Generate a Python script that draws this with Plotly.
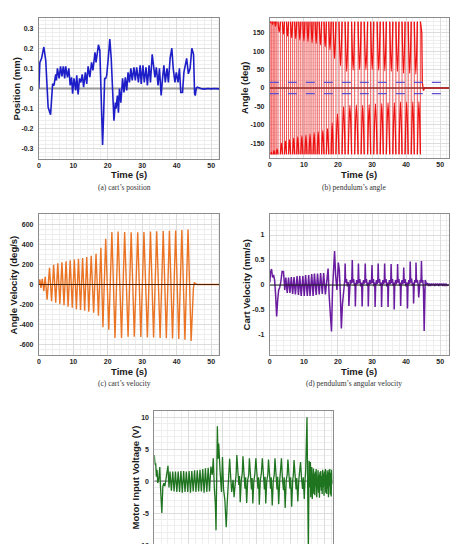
import plotly.graph_objects as go

W, H = 459, 544

# ---------------- data ----------------
X_TICKS = [0, 10, 20, 30, 40, 50]
X_LABELS = ["0", "10", "20", "30", "40", "50"]

# (a) cart position (mm)
POS_T = [0.0, 0.3, 0.8, 1.45, 2.0, 2.7, 3.4, 4.0, 4.4, 4.9, 5.1, 5.4, 5.9, 6.3, 6.7, 7.1, 7.5, 7.8, 8.3, 8.7,
         9.1, 9.5, 9.8, 10.2, 10.7, 11.0, 11.4, 11.8, 12.2, 12.6, 13.0, 13.5, 13.9, 14.3, 14.8, 15.3, 15.7,
         16.3, 16.6, 17.3, 17.7, 18.0, 18.3, 18.5, 18.8, 19.1, 19.4, 19.7, 20.2, 20.6, 21.0, 21.4, 21.8,
         22.2, 22.4, 22.8, 23.1, 23.4, 23.8, 24.3, 24.7, 25.1, 25.5, 25.9, 26.3, 26.7, 27.1, 27.6, 28.0,
         28.4, 28.9, 29.4, 29.7, 30.2, 30.6, 31.1, 31.5, 32.0, 32.4, 32.9, 33.2, 33.7, 34.1, 34.6, 35.0,
         35.5, 35.9, 36.3, 36.7, 37.2, 37.6, 38.1, 38.6, 39.0, 39.5, 39.9, 40.4, 40.8, 41.2, 41.7, 42.1,
         42.5, 42.9, 43.4, 43.9, 44.4, 44.9, 45.2, 45.4, 45.7, 46.0, 47.0, 48.0, 49.0, 50.0, 51.0, 52.3]
POS_V = [0.0, 0.13, 0.15, 0.206, 0.14, -0.093, -0.13, 0.023, 0.015, 0.07, 0.04, 0.1, 0.05, 0.11, 0.06, 0.11,
         0.05, 0.11, 0.055, 0.1, 0.015, 0.055, -0.026, 0.05, -0.01, 0.065, -0.03, 0.05, 0.03, 0.07, 0.007,
         0.08, 0.023, 0.11, 0.056, 0.13, 0.09, 0.18, 0.13, 0.217, 0.19, 0.015, -0.1, -0.28, -0.13, 0.05,
         0.05, 0.065, 0.16, 0.245, 0.15, -0.05, -0.16, -0.07, -0.1, -0.035, -0.12, 0.0, -0.07, 0.05, -0.02,
         0.055, -0.01, 0.08, 0.03, 0.1, 0.04, 0.105, 0.04, 0.105, 0.03, 0.115, 0.023, 0.115, 0.03, 0.105,
         0.015, 0.115, 0.03, 0.17, 0.115, 0.055, 0.105, 0.015, 0.1, -0.035, 0.05, 0.115, 0.03, 0.1, 0.03,
         0.15, 0.2, 0.1, 0.03, 0.08, 0.03, 0.1, -0.02, -0.02, 0.08, 0.115, 0.15, 0.073, 0.1, 0.2, 0.17,
         -0.027, -0.035, 0.002, 0.007, 0.0, -0.003, 0.0, -0.002, 0.0, -0.002]
POS_TICKS = [-0.3, -0.2, -0.1, 0, 0.1, 0.2, 0.3]
POS_LABELS = ["-0.3", "-0.2", "-0.1", "0", "0.1", "0.2", "0.3"]

# (b) pendulum angle (deg): wrap instants and swing extremes
ANGLE_WRAP = 180
WRAP_T = [0.3, 0.6, 1.0, 1.45, 1.85, 2.4, 3.1, 3.7, 4.3, 4.9, 5.5, 6.1, 6.7, 7.3, 7.9, 8.5, 9.1, 9.7, 10.3,
          10.9, 11.5, 12.1, 12.7, 13.3, 13.9, 14.5, 15.2, 15.9, 16.6, 17.3, 18.0, 18.6, 19.4, 20.3, 21.2,
          22.1, 23.0, 24.0, 24.9, 25.9, 26.8, 27.7, 28.7, 29.6, 30.5, 31.5, 32.4, 33.3, 34.2, 35.2, 36.1,
          37.0, 37.9, 38.8, 39.7, 40.6, 41.5, 42.4, 43.3, 44.2]
EXT_T = [0.0, 0.45, 0.8, 1.22, 1.65, 2.12, 2.75, 3.4, 4.0, 4.6, 5.2, 5.8, 6.4, 7.0, 7.6, 8.2, 8.8, 9.4, 10.0,
         10.6, 11.2, 11.8, 12.4, 13.0, 13.6, 14.2, 14.85, 15.55, 16.25, 16.95, 17.65, 18.3, 19.0, 19.85,
         20.75, 21.65, 22.55, 23.5, 24.45, 25.4, 26.35, 27.25, 28.2, 29.15, 30.05, 31.0, 31.95, 32.85,
         33.75, 34.7, 35.65, 36.55, 37.45, 38.35, 39.25, 40.15, 41.05, 41.95, 42.85, 43.75]
EXT_V = [176, -174, 172, -170, 168, -165, 152, -150, 146, -144, 141, -140, 137, -136, 134, -133, 131, -130,
         128, -128, 126, -125, 123, -122, 121, -119, 117, -115, 112, -110, 104, -95, 80, -70, 60, -50, 45,
         -47, 48, -46, 50, -47, 50, -45, 50, -43, 48, -42, 47, -40, 45, -40, 45, -38, 40, -38, 40, -38, 38,
         -37]
ANG_END_T = [44.2, 44.6, 44.75, 45.1, 45.4, 52.6]
ANG_END_V = [180, 150, 15, -7, 0, 0]
ANG_BAND = 15
ANG_TICKS = [-150, -100, -50, 0, 50, 100, 150]
ANG_LABELS = ["-150", "-100", "-50", "0", "50", "100", "150"]

# (c) angle velocity (deg/s)
VEL_T = [0.0, 0.3, 0.6, 1.0, 1.45, 1.85, 2.4, 3.1, 3.7, 4.3, 4.9, 5.5, 6.1, 6.7, 7.3, 7.9, 8.5, 9.1, 9.7,
         10.3, 10.9, 11.5, 12.1, 12.7, 13.3, 13.9, 14.5, 15.2, 15.9, 16.6, 17.3, 18.0, 18.6, 19.4, 20.3,
         21.2, 22.1, 23.0, 24.0, 24.9, 25.9, 26.8, 27.7, 28.7, 29.6, 30.5, 31.5, 32.4, 33.3, 34.2, 35.2,
         36.1, 37.0, 37.9, 38.8, 39.7, 40.6, 41.5, 42.4, 43.3, 44.2, 44.7, 44.85, 45.1, 45.5, 46.0, 52.3]
VEL_V = [0, 50, -35, 57, -65, 77, -150, 165, -165, 195, -180, 210, -195, 220, -205, 230, -220, 240, -230,
         248, -245, 255, -252, 262, -260, 272, -270, 285, -280, 305, -310, 365, -425, 455, -450, 520, -530,
         525, -530, 520, -518, 518, -518, 518, -522, 520, -525, 525, -527, 528, -530, 530, -533, 533, -537,
         537, -542, 540, -548, 545, -560, -75, -40, 20, 5, 0, 0]
VEL_TICKS = [-600, -400, -200, 0, 200, 400, 600]
VEL_LABELS = ["-600", "-400", "-200", "0", "200", "400", "600"]

# (d) cart velocity (mm/s)
CV_T = [0.0, 0.2, 0.5, 0.8, 1.1, 1.4, 1.7, 2.0, 2.3, 2.6, 2.9, 3.2, 3.6, 4.0, 4.4, 4.7, 5.1, 5.5, 5.9, 6.3,
        6.7, 7.1, 7.5, 8.0, 8.4, 8.8, 9.2, 9.7, 10.1, 10.5, 11.0, 11.4, 11.8, 12.3, 12.7, 13.1, 13.6, 14.0,
        14.5, 14.9, 15.4, 15.8, 16.3, 16.8, 17.1, 17.4, 17.8, 18.1, 18.4, 18.7, 19.0, 19.3, 19.7, 20.1,
        20.4, 20.7, 21.0, 21.3, 21.6, 21.9,
        22.0, 22.1, 22.25, 22.5, 22.75, 22.95, 23.1, 23.2, 23.35, 23.6, 23.85, 24.05, 24.2, 24.35, 24.6,
        24.85, 25.0, 25.1, 25.25, 25.5, 25.75, 25.9, 26.0, 26.15, 26.4, 26.7, 26.95, 27.1, 27.25, 27.5,
        27.7, 27.9, 28.0, 28.15, 28.35, 28.6, 28.8, 28.9, 29.05, 29.3, 29.6, 29.85, 30.0, 30.15, 30.4,
        30.6, 30.8, 30.9, 31.05, 31.3, 31.5, 31.7, 31.8, 31.95, 32.2, 32.45, 32.7, 32.8, 32.95, 33.2,
        33.4, 33.6, 33.7, 33.85, 34.1, 34.35, 34.6, 34.7, 34.85, 35.1, 35.3, 35.5, 35.6, 35.75, 36.0,
        36.2, 36.4, 36.5, 36.65, 36.9, 37.1, 37.4, 37.5, 37.65, 37.9, 38.1, 38.3, 38.4, 38.55, 38.8,
        39.0, 39.2, 39.3, 39.45, 39.7, 39.95, 40.25, 40.4, 40.55, 40.8, 41.0, 41.1, 41.2, 41.35, 41.6,
        41.85, 42.1, 42.2, 42.35, 42.55, 42.75, 42.85, 42.9, 43.05, 43.3, 43.55, 43.7, 43.85, 44.1, 44.3,
        44.4, 44.5, 44.65, 44.9, 45.1, 45.3, 45.45, 45.6, 45.8, 46.0, 46.3, 46.6, 46.9, 47.2, 47.5, 47.8,
        48.1, 48.4, 48.7, 49.0, 49.3, 49.6, 49.9, 50.2, 50.5, 50.8, 51.1, 51.4, 51.7, 52.0, 52.5]
CV_V = [0.05, 0.25, 0.32, 0.15, 0.2, 0.1, -0.2, -0.63, -0.3, -0.1, -0.05, 0.05, 0.27, 0.27, -0.1, 0.15,
        -0.16, 0.15, -0.16, 0.16, -0.18, 0.16, -0.19, 0.18, -0.2, 0.18, -0.22, 0.18, -0.22, 0.2, -0.22, 0.2,
        -0.22, 0.22, -0.22, 0.23, -0.2, 0.23, -0.19, 0.24, -0.18, 0.24, -0.19, 0.25, 0.33, -0.2, -0.78,
        -0.93, -0.1, 0.4, 0.68, 0.2, -0.1, 0.45, 0.3, -0.2, -0.87, -0.4, -0.2, 0.05,
        0.1, 0.43, 0.05, 0.12, -0.03, 0.06, 0.0, -0.42, -0.02, 0.1, 0.03, 0.1, 0.5, 0.05, 0.12,
        -0.02, 0.04, -0.43, -0.03, 0.1, 0.02, 0.1, 0.43, 0.04, 0.12, -0.03, 0.05, -0.43, -0.02, 0.1,
        0.03, 0.1, 0.43, 0.05, 0.12, -0.02, 0.05, -0.43, -0.02, 0.1, 0.02, 0.1, 0.4, 0.04, 0.12,
        -0.03, 0.05, -0.44, -0.02, 0.1, 0.02, 0.1, 0.43, 0.05, 0.12, -0.02, 0.05, -0.44, -0.02, 0.1,
        0.02, 0.1, 0.43, 0.05, 0.12, -0.03, 0.05, -0.44, -0.02, 0.1, 0.02, 0.1, 0.42, 0.04, 0.12,
        -0.02, 0.05, -0.49, -0.03, 0.1, 0.02, 0.1, 0.42, 0.05, 0.12, -0.02, 0.05, -0.42, -0.02, 0.1,
        0.02, 0.1, 0.35, 0.04, 0.12, -0.03, 0.05, -0.47, -0.02, 0.1, 0.02, 0.12, 0.47, 0.05, 0.13,
        -0.02, 0.05, -0.37, -0.02, 0.1, 0.05, 0.12, 0.45, 0.05, 0.1, 0.0, -0.25, 0.0, 0.1, 0.05,
        0.15, 0.48, 0.05, 0.1, -0.1, -0.92, 0.05, 0.1, 0.06, 0.0, 0.04, -0.02, 0.03, -0.02, 0.03, -0.01,
        0.03, -0.02, 0.03, -0.01, 0.03, -0.02, 0.03, -0.01, 0.03, -0.02, 0.02, -0.01, 0.02, -0.01, 0.01]
CV_TICKS = [-1, -0.5, 0, 0.5, 1]
CV_LABELS = ["-1", "-0.5", "0", "0.5", "1"]

# (e) motor input voltage (V)
MV_T = [0.0, 0.2, 0.4, 0.6, 0.8, 1.0, 1.3, 1.6, 1.8, 2.2, 2.5, 2.8, 3.1, 3.4, 3.7, 4.0, 4.3, 4.6, 5.0, 5.4,
        5.8, 6.2, 6.6, 7.0, 7.4, 7.8, 8.2, 8.6, 9.0, 9.4, 9.8, 10.2, 10.6, 11.0, 11.4, 11.8, 12.2, 12.6,
        13.0, 13.4, 13.8, 14.2, 14.6, 15.0, 15.4, 15.8, 16.2, 16.6, 17.0, 17.3, 17.6, 17.9, 18.1, 18.3,
        18.5, 18.7, 18.9, 19.3, 19.7, 20.0, 20.3, 20.7, 21.1, 21.4, 21.6, 21.9, 22.1, 22.4, 22.7, 23.1,
        23.4, 23.8, 24.0, 24.2, 24.5, 24.8, 25.0, 25.2, 25.5, 25.8, 26.0, 26.3, 26.6, 26.8, 27.1, 27.4,
        27.7, 27.9, 28.2, 28.5, 28.7, 28.9, 29.2, 29.5, 29.8, 30.1, 30.4, 30.6, 30.8, 31.1, 31.4, 31.7,
        32.0, 32.3, 32.5, 32.7, 33.0, 33.3, 33.5, 33.8, 34.1, 34.3, 34.6, 34.9, 35.2, 35.4, 35.7, 36.0,
        36.2, 36.5, 36.8, 37.0, 37.3, 37.6, 37.9, 38.1, 38.4, 38.7, 39.0, 39.2, 39.5, 39.8, 40.0, 40.3,
        40.6, 40.8, 41.0, 41.3, 41.6, 41.8, 42.1, 42.4, 42.6, 42.9, 43.2, 43.5, 43.7, 44.0, 44.2, 44.4,
        44.55, 44.8, 45.2, 45.4, 45.5, 45.6, 45.7, 45.8, 45.9, 46.0, 46.1, 46.2, 46.35, 46.5, 46.6, 46.7,
        46.85, 47.0, 47.1, 47.25, 47.4, 47.5, 47.65, 47.8, 47.9, 48.05, 48.2, 48.3, 48.45, 48.6, 48.7,
        48.85, 49.0, 49.1, 49.25, 49.4, 49.5, 49.65, 49.8, 49.9, 50.05, 50.2, 50.3, 50.45, 50.6, 50.7,
        50.85, 51.0, 51.1, 51.25, 51.4, 51.5, 51.65, 51.8, 51.9, 52.05, 52.2, 52.3]
MV_V = [4.1, 2.6, 2.8, 0.7, 1.8, -0.3, 0.3, 2.2, -0.8, -5.0, -0.8, -0.3, -0.8, 0.2, 1.5, 2.4, -1.0, 1.5,
        -1.5, 1.5, -1.6, 1.5, -1.7, 1.5, -1.7, 1.6, -1.8, 1.6, -1.7, 1.5, -1.7, 1.6, -1.8, 1.6, -1.6, 1.7,
        -1.7, 1.7, -1.6, 1.8, -1.6, 1.9, -1.8, 2.0, -1.7, 2.1, -1.6, 2.3, 1.0, 3.6, -1.0, -3.5, -7.7, 0.0,
        8.6, 3.5, 5.9, 1.5, -1.7, 3.8, -1.2, -3.0, -7.2, -3.3, -1.4, 0.7, 3.5, 0.7, -1.7, 0.2,
        -2.5, 0.0, 1.0, 4.1, 0.7, -0.6, 0.8, -3.3, 0.0, 1.2, 3.9, 0.3, -1.2, 0.6, -3.4, 0.2,
        1.0, 3.6, 0.3, -1.3, 0.5, -3.5, 0.0, 1.1, 3.6, 0.4, -1.2, 0.6, -3.7, 0.1, 1.2, 3.6,
        0.3, -1.3, 0.7, -3.5, 0.1, 1.0, 3.4, 0.2, -1.2, 0.6, -3.8, 0.0, 1.1, 3.6, 0.3, -1.3,
        0.7, -3.6, 0.1, 1.2, 3.6, 0.3, -1.4, 0.6, -4.2, 0.1, 1.1, 3.4, 0.2, -1.2, 0.6, -4.0,
        0.0, 1.0, 3.3, 0.3, -1.3, 0.5, -3.2, 0.2, 1.2, 3.0, 0.4, -1.2, 0.6, -2.8, 0.0, 1.5,
        4.6, 10.0, -11.5, 3.2, -2.0, 2.5, -1.0, 3.0, -2.5, 1.8, -1.5, 2.2, -2.8, 1.0, -0.5, 2.0,
        -2.0, 1.2, -2.2, 1.5, -0.8, 1.9, -2.5, 0.8, -1.2, 1.7, -1.8, 1.0, -2.6, 1.4,
        -0.9, 1.6, -1.5, 0.8, -2.0, 1.8, -1.0, 1.2, -2.3, 1.5, -0.7, 1.9, -1.8, 1.0, -2.0,
        1.7, -1.2, 1.4, -2.5, 1.8, -0.8, 1.9, -2.1, 1.3, -2.4, 1.8, -0.5]
MV_TICKS = [-5, 0, 5, 10]
MV_LABELS = ["-5", "0", "5", "10"]

# ---------------- styling ----------------
SANS = "Liberation Sans, Arial, sans-serif"
SERIF = "Liberation Serif, Times New Roman, serif"
GRID = "#dcdcdc"
GRID2 = "#eeeeee"
BOX = "#8c8c8c"
TICK_SIZE = 7


def P(x, y):
    return x / W, 1 - y / H


def xax(x0, x1, rng, anchor, show=True):
    return dict(domain=[x0 / W, x1 / W], range=rng, anchor=anchor,
                tickmode="array", tickvals=X_TICKS, ticktext=X_LABELS, showticklabels=show,
                showgrid=True, gridcolor=GRID, gridwidth=0.7,
                minor=dict(tickmode="linear", tick0=0, dtick=2, showgrid=True, gridcolor=GRID2, gridwidth=0.6),
                showline=True, mirror=True, linecolor=BOX, linewidth=1, zeroline=False, ticks="",
                ticklabelstandoff=0,
                tickfont=dict(family=SANS, size=TICK_SIZE, color="#262626", weight="bold"), fixedrange=True)


def yax(y0, y1, rng, tv, tt, mdt, anchor):
    return dict(domain=[max(0, 1 - y1 / H), 1 - y0 / H], range=rng, anchor=anchor,
                tickmode="array", tickvals=tv, ticktext=tt,
                showgrid=True, gridcolor=GRID, gridwidth=0.7,
                minor=dict(tickmode="linear", tick0=0, dtick=mdt, showgrid=True, gridcolor=GRID2, gridwidth=0.6),
                showline=True, mirror=True, linecolor=BOX, linewidth=1, zeroline=False, ticks="",
                ticklabelstandoff=3,
                tickfont=dict(family=SANS, size=TICK_SIZE, color="#262626", weight="bold"), fixedrange=True)


fig = go.Figure()

# reference zero lines drawn beneath data (a) and (e)
fig.add_trace(go.Scatter(x=[X_TICKS[0], POS_T[-1]], y=[0, 0], mode="lines",
                         line=dict(color="#9a9a9a", width=2), xaxis="x", yaxis="y",
                         showlegend=False, hoverinfo="skip"))
fig.add_trace(go.Scatter(x=[X_TICKS[0], MV_T[-1]], y=[0, 0], mode="lines",
                         line=dict(color="#9a9a9a", width=1.6), xaxis="x5", yaxis="y5",
                         showlegend=False, hoverinfo="skip"))

# (a)
fig.add_trace(go.Scatter(x=POS_T, y=POS_V, mode="lines", line=dict(color="#1e1ec8", width=1.6),
                         xaxis="x", yaxis="y", showlegend=False))

# (b) wrap segments and swing excursions
wx, wy = [], []
for w in WRAP_T:
    wx += [w, w, None]
    wy += [ANGLE_WRAP, -ANGLE_WRAP, None]
ex, ey = [], []
for k, (te, ve) in enumerate(zip(EXT_T, EXT_V)):
    s = ANGLE_WRAP if ve > 0 else -ANGLE_WRAP
    if k == 0:
        ex += [te, WRAP_T[0], None]
        ey += [ve, s, None]
    else:
        ex += [WRAP_T[k - 1], te, WRAP_T[k], None]
        ey += [s, ve, s, None]
fig.add_trace(go.Scatter(x=wx, y=wy, mode="lines", line=dict(color="#ee1111", width=0.7),
                         xaxis="x2", yaxis="y2", showlegend=False))
fig.add_trace(go.Scatter(x=ex, y=ey, mode="lines", line=dict(color="#ee1111", width=1.3, shape="spline"),
                         xaxis="x2", yaxis="y2", showlegend=False))
fig.add_trace(go.Scatter(x=ANG_END_T, y=ANG_END_V, mode="lines", line=dict(color="#ee1111", width=1.3),
                         xaxis="x2", yaxis="y2", showlegend=False))

# (c)
fig.add_trace(go.Scatter(x=VEL_T, y=VEL_V, mode="lines", line=dict(color="#ea7424", width=1.4),
                         xaxis="x3", yaxis="y3", showlegend=False))
# (d)
fig.add_trace(go.Scatter(x=CV_T, y=CV_V, mode="lines", line=dict(color="#6a1ca0", width=1.5),
                         xaxis="x4", yaxis="y4", showlegend=False))
# (e)
fig.add_trace(go.Scatter(x=MV_T, y=MV_V, mode="lines", line=dict(color="#1f7420", width=1.3),
                         xaxis="x5", yaxis="y5", showlegend=False))


def hline(xref, yref, y, color, width, dash="solid"):
    fig.add_shape(type="line", xref=xref + " domain", x0=0, x1=1, yref=yref, y0=y, y1=y,
                  line=dict(color=color, width=width, dash=dash), layer="above")


hline("x2", "y2", 0, "#9a2a2a", 1.6)
hline("x2", "y2", ANG_BAND, "#5b4fcf", 1.3, "dash")
hline("x2", "y2", -ANG_BAND, "#5b4fcf", 1.3, "dash")
hline("x3", "y3", 0, "#4a2208", 1.2)
hline("x4", "y4", 0, "#1a1a1a", 1.0)

fig.update_layout(
    width=W, height=H, margin=dict(l=0, r=0, t=0, b=0),
    paper_bgcolor="white", plot_bgcolor="white",
    xaxis=xax(37, 218, [0, 52.3], "y"),
    yaxis=yax(18, 159, [-0.35, 0.35], POS_TICKS, POS_LABELS, 0.02, "x"),
    xaxis2=xax(269, 449, [0, 52.6], "y2"),
    yaxis2=yax(18, 158, [-190, 190], ANG_TICKS, ANG_LABELS, 10, "x2"),
    xaxis3=xax(37, 218, [0, 52.3], "y3"),
    yaxis3=yax(214, 355, [-700, 700], VEL_TICKS, VEL_LABELS, 50, "x3"),
    xaxis4=xax(269, 449, [0, 52.6], "y4"),
    yaxis4=yax(214, 355, [-1.4, 1.42], CV_TICKS, CV_LABELS, 0.1, "x4"),
    xaxis5=xax(153, 332, [0, 52.3], "y5", show=False),
    yaxis5=yax(411, 544, [-9.85, 11], MV_TICKS, MV_LABELS, 1, "x5"),
)

ann = []


def text(px_, py_, s, size, family, bold=True, angle=0, xanchor="center", color="#1a1a1a"):
    x, y = P(px_, py_)
    ann.append(dict(x=x, y=y, xref="paper", yref="paper", text=s, showarrow=False, textangle=angle,
                    xanchor=xanchor, yanchor="middle",
                    font=dict(family=family, size=size, color=color, weight="bold" if bold else "normal")))


for cx, cy in [(127.5, 174), (359, 174), (127.5, 371), (359, 371)]:
    text(cx, cy, "Time (s)", 9.5, SANS)
text(15, 88.5, "Position (mm)", 9.5, SANS, angle=-90)
text(244, 88, "Angle (deg)", 9.5, SANS, angle=-90)
text(12, 284.5, "Angle Velocity (deg/s)", 9.5, SANS, angle=-90)
text(246, 284.5, "Cart Velocity (mm/s)", 9.5, SANS, angle=-90)
text(134, 477, "Motor Input Voltage (V)", 9.5, SANS, angle=-90)
text(150, 545, "-10", TICK_SIZE, SANS, xanchor="right", color="#262626")
text(123, 187, "(a) cart’s position", 7.5, SERIF, bold=False, color="#333333")
text(354, 187, "(b) pendulum’s angle", 7.5, SERIF, bold=False, color="#333333")
text(123, 383, "(c) cart’s velocity", 7.5, SERIF, bold=False, color="#333333")
text(354, 383, "(d) pendulum’s angular velocity", 7.5, SERIF, bold=False, color="#333333")
fig.update_layout(annotations=ann)

fig.write_html("out.html")
